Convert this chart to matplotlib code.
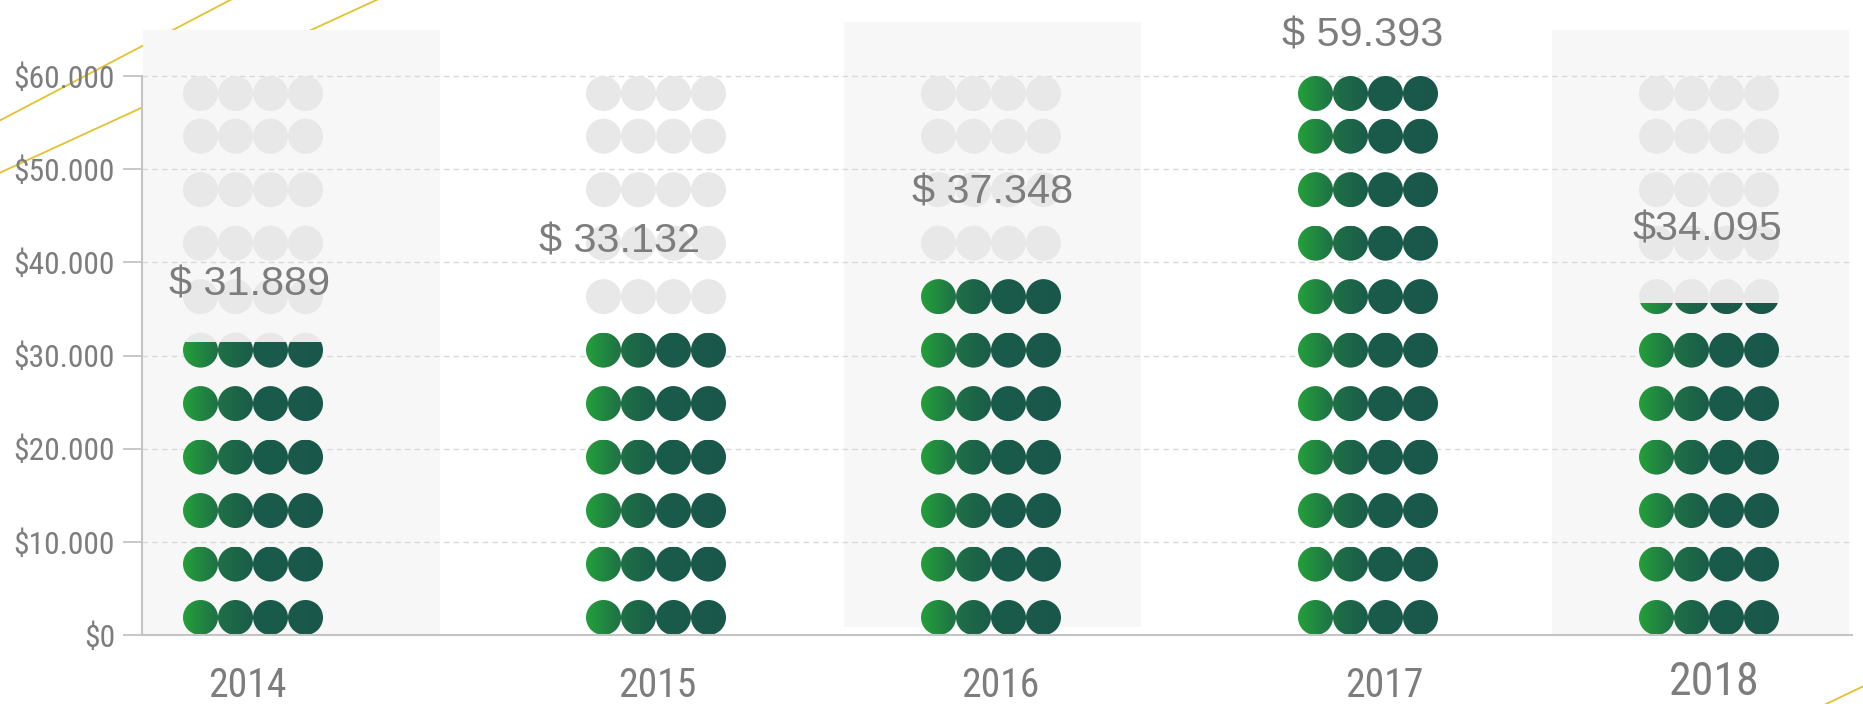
import numpy as np
import matplotlib
matplotlib.use("Agg")
import matplotlib.pyplot as plt
from matplotlib.patches import Ellipse, Rectangle
from matplotlib.lines import Line2D
from matplotlib.colors import LinearSegmentedColormap
from matplotlib.font_manager import FontProperties
from matplotlib.textpath import TextPath
from matplotlib import font_manager

# ---------------- data ----------------
years = ["2014", "2015", "2016", "2017", "2018"]
values = [31889, 33132, 37348, 59393, 34095]
value_labels = ["$ 31.889", "$ 33.132", "$ 37.348", "$ 59.393", "$34.095"]
fill_levels = [31400, 33132, 38300, 60000, 35600]   # green fill height as drawn
background_max = 60000
y_ticks = [0, 10000, 20000, 30000, 40000, 50000, 60000]
y_tick_labels = ["$0", "$10.000", "$20.000", "$30.000", "$40.000", "$50.000", "$60.000"]

# ---------------- layout (pixels) ----------------
W, H, DPI = 1863, 704, 100
AX_L, AX_R = 142, 1852          # axes left/right in figure px
AX_B = 635                      # y px (from top) of value 0
Y60_PX = 76                     # y px of 60000
Y_PER_PX = background_max / (AX_B - Y60_PX)

col_centers = [111, 514, 849, 1226, 1567]     # px from axes left
tick_pos = [105, 515, 858, 1242, 1572]
label_x = [108, 478, 851, 1221, 1565]
label_offset = [4600, 7870, 9020, 3720, 8300]
panel_left = [1, 702, 1410]
panel_width = 297
panel_top_px = [30, 22, 30]
panel_bottom_px = [635, 627, 635]

DOT_D = 35        # dot diameter px
DOT_STEP = 35     # horizontal spacing px
ROW_STEP = 5740   # vertical spacing, value units
N_PER_ROW = 4

GRAY_DOT = "#e8e8e8"
PANEL = "#f7f7f7"
TEXT = "#7d7d7d"
AXIS = "#c4c4c4"
GOLD = "#e3c22f"
green_cmap = LinearSegmentedColormap.from_list(
    "g", [(0, "#23a03a"), (0.25, "#1f7046"), (0.5, "#1a5c4a"), (1, "#19574a")])


# ---------------- fonts ----------------
def pick_narrow():
    prefs = ["Liberation Sans Narrow", "Arial Narrow", "Roboto Condensed",
             "Open Sans Condensed", "Noto Sans Condensed"]
    entries = font_manager.fontManager.ttflist
    ok = lambda f: f.style == "normal" and f.weight in (400, "normal", "regular", "book")
    for p in prefs:
        for f in entries:
            if f.name == p and ok(f):
                return FontProperties(fname=f.fname)
    for f in entries:
        if f.stretch in ("condensed", "semi-condensed") and ok(f) and "DejaVu" not in f.name:
            return FontProperties(fname=f.fname)
    return FontProperties(family="Liberation Sans")


NARROW_FP = pick_narrow()
REG_FP = FontProperties(family="Liberation Sans")


def fit_pt(fp, s, target_w, target_h):
    w = TextPath((0, 0), s, size=100, prop=fp).get_extents().width
    h = TextPath((0, 0), "0123456789", size=100, prop=fp).get_extents().height
    px = np.sqrt((target_w / w * 100) * (target_h / h * 100))
    return px * 72 / DPI


tick_pt = fit_pt(NARROW_FP, "$30.000", 98, 23)
cat_pt = fit_pt(NARROW_FP, "2015", 68, 32)
cat_last_pt = fit_pt(NARROW_FP, "2018", 87, 33)
val_pt = fit_pt(REG_FP, "$ 59.393", 155, 30)

fig = plt.figure(figsize=(W / DPI, H / DPI), dpi=DPI)
fig.patch.set_facecolor("white")


# decorative gold lines (behind the axes)
def px_line(x0, y0, x1, y1):
    fig.add_artist(Line2D([x0 / W, x1 / W], [1 - y0 / H, 1 - y1 / H],
                          transform=fig.transFigure, color=GOLD, lw=1.3, zorder=-1))


px_line(-5, 123, 236, -3)
px_line(-5, 175, 383, -3)
px_line(1822, 706, 1868, 684)

ax = fig.add_axes([AX_L / W, (H - AX_B) / H, (AX_R - AX_L) / W, AX_B / H])
ax.set_facecolor("none")
ax.set_xlim(0, AX_R - AX_L)
ax.set_ylim(0, AX_B * Y_PER_PX)
ax.set_autoscale_on(False)


def py(px):
    return (AX_B - px) * Y_PER_PX


# background panels
for l, t, b in zip(panel_left, panel_top_px, panel_bottom_px):
    ax.add_patch(Rectangle((l, py(b)), panel_width, py(t) - py(b),
                           facecolor=PANEL, edgecolor="none", zorder=0.2))

# grid
ax.set_axisbelow(True)
ax.set_yticks(y_ticks, y_tick_labels)
ax.yaxis.grid(True, color="#d9d9d9", lw=1.0, ls=(0, (4, 3)))
for gl in ax.get_ygridlines():
    gl.set_zorder(0.5)

# dots
r_val = DOT_D / 2 * Y_PER_PX
grad = np.linspace(0, 1, 256).reshape(1, -1)
row_centers = []
i = 0
while i * ROW_STEP < background_max:
    row_centers.append(min(r_val + i * ROW_STEP, background_max - r_val))
    i += 1

for j, cx in enumerate(col_centers):
    x0 = cx - (N_PER_ROW - 1) / 2 * DOT_STEP - DOT_D / 2
    x1 = cx + (N_PER_ROW - 1) / 2 * DOT_STEP + DOT_D / 2
    xs = [cx + (k - (N_PER_ROW - 1) / 2) * DOT_STEP for k in range(N_PER_ROW)]
    for cy in row_centers:
        for ex in xs:
            ax.add_patch(Ellipse((ex, cy), DOT_D, DOT_D * Y_PER_PX,
                                 facecolor=GRAY_DOT, edgecolor="none", zorder=2))
        bottom = cy - r_val
        top = min(cy + r_val, fill_levels[j])
        if top > bottom:
            for ex in xs:
                im = ax.imshow(grad, cmap=green_cmap, extent=[x0, x1, bottom, top],
                               aspect="auto", interpolation="bilinear", zorder=3)
                clip = Ellipse((ex, cy), DOT_D, DOT_D * Y_PER_PX, transform=ax.transData)
                im.set_clip_path(clip)

# value labels
for j in range(len(years)):
    ax.text(label_x[j], values[j] + label_offset[j], value_labels[j],
            ha="center", va="baseline", color=TEXT, fontproperties=REG_FP,
            fontsize=val_pt, zorder=5, clip_on=False)

ax.set_xlim(0, AX_R - AX_L)
ax.set_ylim(0, AX_B * Y_PER_PX)

# axes styling
for s in ["top", "right"]:
    ax.spines[s].set_visible(False)
ax.spines["left"].set_bounds(0, background_max)
for s in ["left", "bottom"]:
    ax.spines[s].set_color(AXIS)
    ax.spines[s].set_linewidth(1.5)
    ax.spines[s].set_zorder(4)

ax.tick_params(axis="y", length=13.7, width=1.3, color=AXIS, pad=5.8, labelcolor=TEXT)
for t in ax.get_yticklabels():
    t.set_fontproperties(NARROW_FP)
    t.set_fontsize(tick_pt)

ax.set_xticks(tick_pos, years)
ax.tick_params(axis="x", length=0, labelcolor=TEXT)
for k, (t, tk) in enumerate(zip(ax.get_xticklabels(), ax.xaxis.get_major_ticks())):
    t.set_fontproperties(NARROW_FP)
    if k == len(years) - 1:
        t.set_fontsize(cat_last_pt)
        tk.set_pad(18)
    else:
        t.set_fontsize(cat_pt)
        tk.set_pad(22)

fig.savefig("out.png", dpi=DPI, facecolor="white")
